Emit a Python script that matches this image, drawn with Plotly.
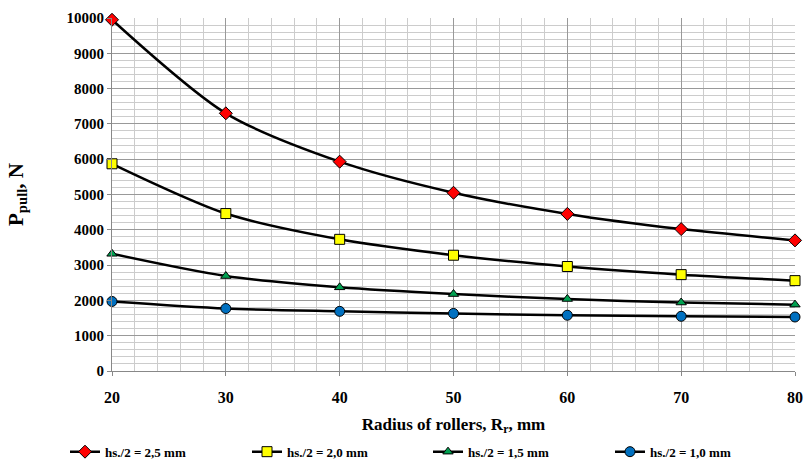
import plotly.graph_objects as go

radius = [20, 30, 40, 50, 60, 70, 80]
p_25 = [9950, 7300, 5930, 5050, 4450, 4020, 3700]
p_20 = [5870, 4460, 3730, 3280, 2960, 2730, 2560]
p_15 = [3320, 2690, 2370, 2180, 2040, 1940, 1880]
p_10 = [1970, 1770, 1690, 1630, 1580, 1550, 1530]
names = ["hs./2 = 2,5 mm", "hs./2 = 2,0 mm", "hs./2 = 1,5 mm", "hs./2 = 1,0 mm"]
series = [p_25, p_20, p_15, p_10]
symbols = ["diamond", "square", "triangle-up", "circle"]
colors = ["#ff0000", "#ffff00", "#00a050", "#0070c0"]
sizes = [10, 10, 9, 10]
legend_ids = ["legend", "legend2", "legend3", "legend4"]
legend_x = [65, 247, 428, 610]

font = "Liberation Serif"
fig = go.Figure()
for name, ys, sym, col, sz, lg in zip(names, series, symbols, colors, sizes, legend_ids):
    fig.add_trace(go.Scatter(
        x=radius, y=ys, name=name, mode="lines+markers", cliponaxis=False, legend=lg,
        line=dict(color="black", width=2.5, shape="spline", smoothing=0.8),
        marker=dict(symbol=sym, color=col, size=sz, line=dict(color="black", width=1)),
    ))

legend_common = dict(orientation="h", xref="container", yref="container", y=0.018,
                     yanchor="middle", xanchor="left", bgcolor="rgba(0,0,0,0)",
                     font=dict(size=13, family=font, weight="bold"), itemwidth=30)
layout_legends = {lg: dict(x=lx / 805, **legend_common) for lg, lx in zip(legend_ids, legend_x)}

fig.update_layout(
    width=805, height=460,
    margin=dict(l=112, r=10, t=18, b=89),
    paper_bgcolor="white", plot_bgcolor="white",
    font=dict(family=font, color="black", weight="bold"),
    showlegend=True,
    **layout_legends,
    xaxis=dict(
        range=[20, 80], tickvals=radius, ticks="outside", ticklen=4, tickcolor="#888",
        tickfont=dict(size=16, family=font, weight="bold"), showline=True, linecolor="#888",
        ticklabelstandoff=8, automargin=False,
        showgrid=True, gridcolor="#999", gridwidth=1,
        minor=dict(dtick=2, showgrid=True, gridcolor="#ccc", gridwidth=1),
        title=dict(text="Radius of rollers, R<sub>r</sub>, mm", font=dict(size=17, family=font, weight="bold"), standoff=12),
        zeroline=False,
    ),
    yaxis=dict(
        range=[0, 10000], dtick=1000, tickformat="d", ticks="outside", ticklen=4, tickcolor="#888",
        tickfont=dict(size=15, family=font, weight="bold"), showline=True, linecolor="#888",
        automargin=False,
        showgrid=True, gridcolor="#999", gridwidth=1,
        minor=dict(dtick=200, showgrid=True, gridcolor="#ccc", gridwidth=1),
        title=dict(text="P<sub>pull</sub>, N", font=dict(size=21, family=font, weight="bold"), standoff=37),
        zeroline=False,
    ),
)

fig.write_html("out.html")
